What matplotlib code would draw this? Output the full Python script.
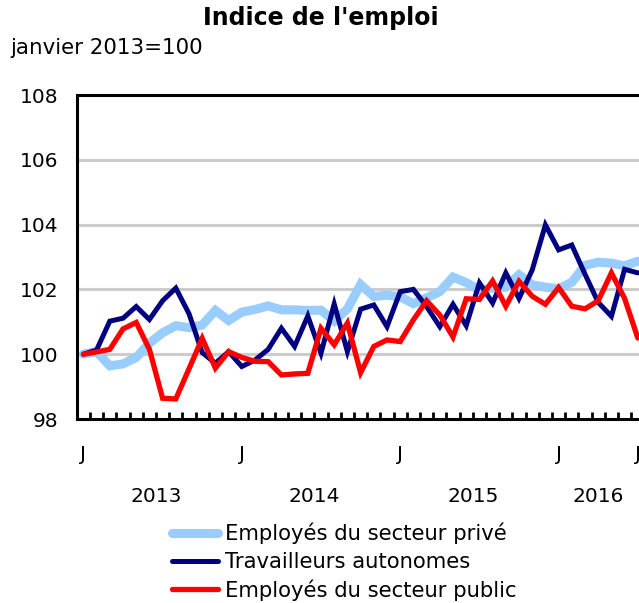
import matplotlib
matplotlib.use("Agg")
import matplotlib.pyplot as plt
import matplotlib.transforms as mtransforms
import numpy as np

plt.rcParams['font.family'] = ['DejaVu Sans']

months = list(range(43))  # Jan 2013 .. Jul 2016
tick_labels = ["J", "J", "J", "J", "J"]
tick_months = [0, 12, 24, 36, 42]
years = ["2013", "2014", "2015", "2016"]
year_centers = [5.5, 17.5, 29.5, 39]

private = [100.0, 100.08, 99.64, 99.70, 99.90, 100.34, 100.66, 100.88, 100.82, 100.9,
           101.35, 101.04, 101.3, 101.38, 101.49, 101.37, 101.37, 101.35, 101.36, 101.02,
           101.4, 102.15, 101.78, 101.82, 101.77, 101.56, 101.74, 101.93, 102.38, 102.21,
           101.98, 102.04, 102.07, 102.45, 102.14, 102.07, 102.02, 102.22, 102.74, 102.84,
           102.81, 102.73, 102.87]
self_employed = [100.0, 100.13, 101.02, 101.11, 101.47, 101.07, 101.65, 102.04, 101.25, 100.05,
                 99.72, 100.08, 99.62, 99.82, 100.15, 100.8, 100.24, 101.18, 100.03, 101.55,
                 100.08, 101.39, 101.52, 100.85, 101.93, 102.0, 101.47, 100.85, 101.54, 100.88,
                 102.2, 101.58, 102.51, 101.72, 102.6, 103.99, 103.22, 103.37, 102.47, 101.6,
                 101.17, 102.62, 102.51]
public = [100.0, 100.07, 100.15, 100.78, 100.98, 100.15, 98.64, 98.62, 99.55, 100.49,
          99.57, 100.08, 99.9, 99.78, 99.77, 99.36, 99.39, 99.41, 100.8, 100.29,
          100.96, 99.43, 100.24, 100.44, 100.39, 101.06, 101.65, 101.21, 100.53, 101.71,
          101.69, 102.26, 101.48, 102.25, 101.79, 101.54, 102.06, 101.48, 101.4, 101.65,
          102.51, 101.72, 100.5]
series_names = ["Employés du secteur privé", "Travailleurs autonomes", "Employés du secteur public"]

W, H = 639, 603
fig = plt.figure(figsize=(W / 100, H / 100), dpi=100)
left_px, right_px, top_px, bottom_px = 76.8, 644.4, 95, 419
ax = fig.add_axes([left_px / W, 1 - bottom_px / H, (right_px - left_px) / W, (bottom_px - top_px) / H])

l1, = ax.plot(months, private, color="#99CCFF", lw=6.5, solid_capstyle="round", solid_joinstyle="miter", zorder=3)
l2, = ax.plot(months, self_employed, color="#000080", lw=3.6, solid_capstyle="round", solid_joinstyle="miter", zorder=4)
l3, = ax.plot(months, public, color="#FF0000", lw=3.8, solid_capstyle="round", solid_joinstyle="miter", zorder=5)

ax.set_xlim(-0.5, 42.5)
ax.set_ylim(98, 108)
ax.set_yticks([98, 100, 102, 104, 106, 108])
ax.yaxis.grid(True, color="#CCCCCC", lw=2.2)
ax.set_axisbelow(True)
ax.tick_params(axis="y", length=0, pad=13, labelsize=14.5)
ax.set_xticks(tick_months)
ax.set_xticklabels(tick_labels)
ax.tick_params(axis="x", which="major", length=0, pad=19, labelsize=14.5)
ax.set_xticks(np.arange(0.5, 42.5, 1), minor=True)
ax.tick_params(axis="x", which="minor", direction="in", length=5, width=2, color="black")
for s in ["left", "top", "bottom", "right"]:
    ax.spines[s].set_linewidth(2.2)
    ax.spines[s].set_color("black")

trans = mtransforms.blended_transform_factory(ax.transData, ax.transAxes)
for yr, xc in zip(years, year_centers):
    ax.text(xc, -(497 - bottom_px) / (bottom_px - top_px), yr, transform=trans,
            ha="center", va="center", fontsize=14.5)

fig.text(321 / W, 1 - 18 / H, "Indice de l'emploi", ha="center", va="center",
         fontsize=17, fontweight="bold")
fig.text(10 / W, 1 - 48 / H, "janvier 2013=100", ha="left", va="center", fontsize=15.4)

fig.legend([l1, l2, l3], series_names, loc="upper left",
           bbox_to_anchor=(171.5 / W, 1 - 523 / H), frameon=False, fontsize=15.2,
           handlelength=2.18, handletextpad=0.36, labelspacing=0.35, borderpad=0,
           borderaxespad=0)

fig.savefig("out.png", dpi=100)
